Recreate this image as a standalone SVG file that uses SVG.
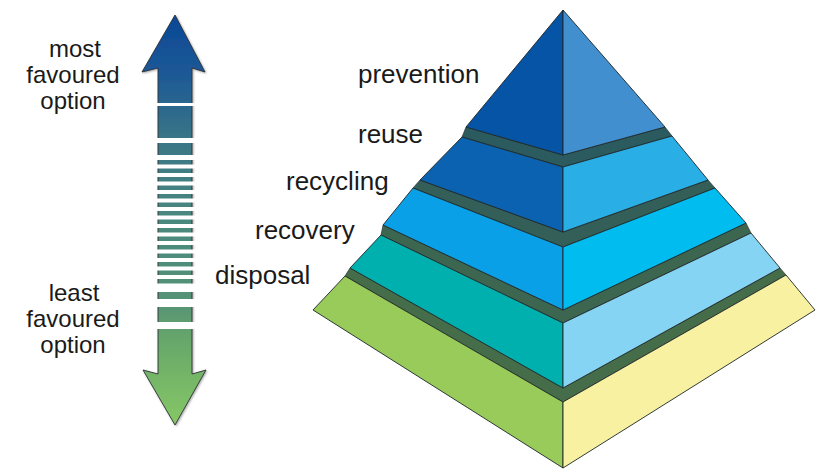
<svg xmlns="http://www.w3.org/2000/svg" width="819" height="470" viewBox="0 0 819 470">
  <defs>
    <linearGradient id="scaleFill" gradientUnits="userSpaceOnUse" x1="0" y1="15" x2="0" y2="425">
      <stop offset="0" stop-color="#0a4896"/>
      <stop offset="0.14" stop-color="#1c5896"/>
      <stop offset="0.305" stop-color="#3a7686"/>
      <stop offset="0.5" stop-color="#4a887e"/>
      <stop offset="0.695" stop-color="#559276"/>
      <stop offset="0.8" stop-color="#68a86a"/>
      <stop offset="1" stop-color="#86c865"/>
    </linearGradient>
    <filter id="soft" x="-10%" y="-10%" width="120%" height="120%">
      <feDropShadow dx="1" dy="1" stdDeviation="1" flood-color="#000" flood-opacity="0.35"/>
    </filter>
  </defs>
  <style>
    .label { font-family: "Liberation Sans", Arial, sans-serif; font-size: 26px; fill: #1a1a1a; }
    .side { font-family: "Liberation Sans", Arial, sans-serif; font-size: 24px; fill: #1a1a1a; text-anchor: middle; }
    .face { stroke: #1d2626; stroke-width: 0.9; stroke-linejoin: round; }
    .band { stroke: #1d2626; stroke-width: 0.6; stroke-linejoin: round; }
    .gap { fill: #ffffff; }
  </style>

  <rect width="819" height="470" fill="#ffffff"/>

  <!-- preference scale: double arrow with widening bars -->
  <g id="scale-arrow">
    <path d="M175,15 L205,72 L192,68 L192,374 L206,370 L175,425 L143,370 L158,374 L158,68 L142,72 Z"
          fill="url(#scaleFill)" stroke="#2a2f33" stroke-width="0.9" filter="url(#soft)"/>
    <g class="gap">
      <rect x="150" y="103" width="50" height="3"/>
      <rect x="150" y="138" width="50" height="5"/>
      <rect x="150" y="155" width="50" height="5"/>
      <rect x="150" y="164.5" width="50" height="4"/>
      <rect x="150" y="173" width="50" height="4"/>
      <rect x="150" y="181.5" width="50" height="4"/>
      <rect x="150" y="190" width="50" height="4"/>
      <rect x="150" y="198.5" width="50" height="4"/>
      <rect x="150" y="207" width="50" height="4"/>
      <rect x="150" y="215.5" width="50" height="4"/>
      <rect x="150" y="224" width="50" height="4"/>
      <rect x="150" y="232.5" width="50" height="4"/>
      <rect x="150" y="241" width="50" height="4"/>
      <rect x="150" y="249.5" width="50" height="4"/>
      <rect x="150" y="258" width="50" height="4"/>
      <rect x="150" y="266.5" width="50" height="4"/>
      <rect x="150" y="275" width="50" height="4"/>
      <rect x="150" y="283.5" width="50" height="8.5"/>
      <rect x="150" y="299" width="50" height="8"/>
      <rect x="150" y="322" width="50" height="7"/>
    </g>
    <text class="side" x="75" y="57">most</text>
    <text class="side" x="73" y="83">favoured</text>
    <text class="side" x="73" y="109">option</text>
    <text class="side" x="74" y="301">least</text>
    <text class="side" x="73" y="327">favoured</text>
    <text class="side" x="73" y="353">option</text>
  </g>

  <!-- pyramid tiers, bottom to top -->
  <g id="tier-disposal">
    <polygon class="band" points="350,268 563,388 780,268 786,275 563,402 345,276" fill="#466d4a"/>
    <polygon class="face" points="345,276 563,402 563,468 313,310" fill="#98cb5a"/>
    <polygon class="face" points="563,402 786,275 815,310 563,468" fill="#f8f1a2"/>
    <text class="label" x="215" y="284">disposal</text>
  </g>

  <g id="tier-recovery">
    <polygon class="band" points="383,225 563,310 746,223 751,233 563,323 381,235" fill="#3d6650"/>
    <polygon class="face" points="381,235 563,323 563,388 350,268" fill="#00b0ae"/>
    <polygon class="face" points="563,323 751,233 780,268 563,388" fill="#86d4f4"/>
    <text class="label" x="255" y="239">recovery</text>
  </g>

  <g id="tier-recycling">
    <polygon class="band" points="420,180 563,232 708,180 715,188 563,247 413,188" fill="#335f58"/>
    <polygon class="face" points="413,188 563,247 563,310 383,225" fill="#0aa0e8"/>
    <polygon class="face" points="563,247 715,188 746,223 563,310" fill="#00bcef"/>
    <text class="label" x="286" y="190">recycling</text>
  </g>

  <g id="tier-reuse">
    <polygon class="band" points="466,127 563,155 665,127 672,136 563,167 462,137" fill="#2b5b5f"/>
    <polygon class="face" points="462,137 563,167 563,232 420,180" fill="#0a62b0"/>
    <polygon class="face" points="563,167 672,136 708,180 563,232" fill="#29aee6"/>
    <text class="label" x="358" y="143">reuse</text>
  </g>

  <g id="tier-prevention">
    <polygon class="face" points="563,10 466,127 563,155" fill="#0654a6"/>
    <polygon class="face" points="563,10 665,127 563,155" fill="#428fd0"/>
    <text class="label" x="358" y="83">prevention</text>
  </g>
</svg>
